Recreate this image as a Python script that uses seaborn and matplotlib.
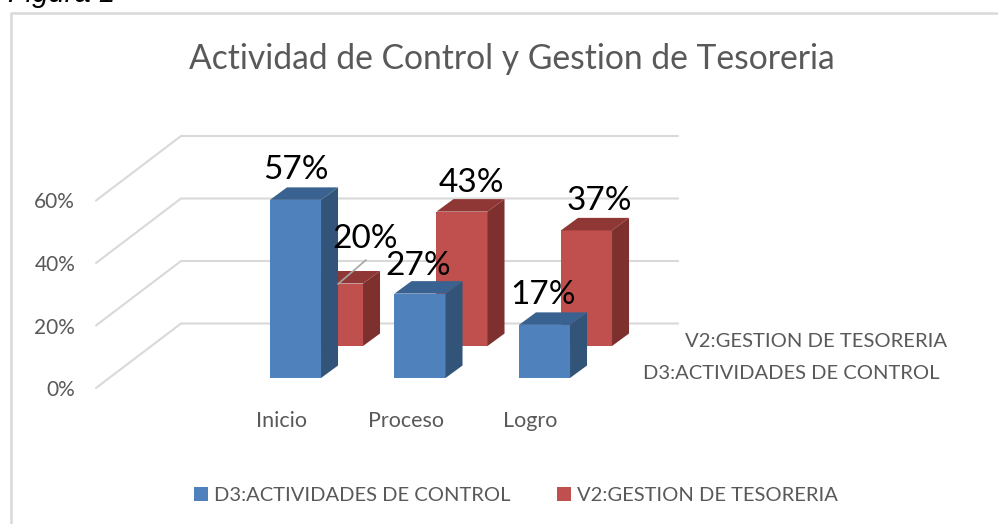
import matplotlib
matplotlib.use("Agg")
import matplotlib.pyplot as plt
from matplotlib.lines import Line2D
from matplotlib.patches import Polygon
from matplotlib.transforms import ScaledTranslation
import seaborn as sns

categories = ["Inicio", "Proceso", "Logro"]
control = [57, 27, 17]
tesoreria = [20, 43, 37]
y_ticks = [0, 20, 40, 60]
title = "Actividad de Control y Gestion de Tesoreria"
control_name = "D3:ACTIVIDADES DE CONTROL"
tesoreria_name = "V2:GESTION DE TESORERIA"

W, H = 998, 524
PX_PER_PCT = 3.125
GRAY = "#595959"
GRID = "#d9d9d9"

sns.set_theme(style="white")
plt.rcParams["font.family"] = ["Lato", "DejaVu Sans"]

fig = plt.figure(figsize=(W / 100, H / 100), dpi=100)


def px_axes(left, right, base, top):
    # axes placed with pixel coords measured from the top left corner
    ax = fig.add_axes([left / W, 1 - base / H, (right - left) / W, (base - top) / H])
    ax.patch.set_alpha(0)
    sns.despine(ax=ax, left=True, bottom=True, right=True, top=True)
    return ax


def bars_3d(ax, values, front, side, top_col, dx=17, dy=12.5):
    sns.barplot(x=categories, y=values, ax=ax, color=front, saturation=1, width=0.41,
                linewidth=0, edgecolor="none")
    ax.set_xlim(-0.5, 2.5)
    ax.set_ylim(0, 60)
    ax.set_ylabel("")
    ax.set_yticks([])
    ux = dx / (ax.get_position().width * W / 3)
    uy = dy / PX_PER_PCT
    for p in list(ax.patches):
        x0, w, h = p.get_x(), p.get_width(), p.get_height()
        x1 = x0 + w
        ax.add_patch(Polygon([(x1, 0), (x1 + ux, uy), (x1 + ux, h + uy), (x1, h)],
                             color=side, lw=0, clip_on=False))
        ax.add_patch(Polygon([(x0, h), (x0 + ux, h + uy), (x1 + ux, h + uy), (x1, h)],
                             color=top_col, lw=0, clip_on=False))


# walls and grid
ax_wall = px_axes(96, 678, 388, 200.5)
ax_wall.set_xlim(96, 678)
ax_wall.set_ylim(0, 60)
depth_y = 64.5 / PX_PER_PCT
for t in y_ticks:
    ax_wall.plot([96, 181, 678], [t, t + depth_y, t + depth_y], color=GRID, lw=1.5,
                 clip_on=False, solid_joinstyle="miter")
ax_wall.set_xticks([])
ax_wall.set_yticks(y_ticks, [f"{t}%" for t in y_ticks])
ax_wall.tick_params(axis="y", length=0, pad=15, labelsize=15, labelcolor=GRAY)

# back row, then front row
ax_red = px_axes(275.25, 648.75, 346, 158.5)
bars_3d(ax_red, tesoreria, "#c0504d", "#7d302e", "#8e3735")
ax_red.set_xticks([])

ax_blue = px_axes(233.25, 606.75, 378, 190.5)
bars_3d(ax_blue, control, "#4f81bd", "#335479", "#3a6291")
ax_blue.tick_params(axis="x", length=0, pad=23.5, labelsize=15.5, labelcolor=GRAY)
shift = ScaledTranslation(-14.5 / 100, 0, fig.dpi_scale_trans)
for lab in ax_blue.get_xticklabels():
    lab.set_transform(lab.get_transform() + shift)

# value labels sit above everything, some were dragged off their bar
red_off = [(28, 45), (9, 29), (13, 29)]
blue_off = [(0, 30), (-2, 28), (-1, 30)]
for i, v in enumerate(tesoreria):
    ax_blue.annotate(f"{v}%", xy=(i, v), xycoords=ax_red.transData,
                     xytext=(red_off[i][0] * 0.72, red_off[i][1] * 0.72),
                     textcoords="offset points", ha="center", va="center",
                     fontsize=24, color="black", annotation_clip=False, zorder=10)
for i, v in enumerate(control):
    ax_blue.annotate(f"{v}%", xy=(i, v), xycoords=ax_blue.transData,
                     xytext=(blue_off[i][0] * 0.72, blue_off[i][1] * 0.72),
                     textcoords="offset points", ha="center", va="center",
                     fontsize=24, color="black", annotation_clip=False, zorder=10)

# leader line of the moved 20% label
fig.add_artist(Line2D([338 / W, 366 / W], [1 - 284 / H, 1 - 260 / H], color="#a6a6a6", lw=1.2))

# names on the depth axis
fig.text(685 / W, 1 - 341.5 / H, tesoreria_name, fontsize=14.6, color=GRAY, va="center")
fig.text(643 / W, 1 - 373.5 / H, control_name, fontsize=14.5, color=GRAY, va="center")

ax_blue.legend(handles=[ax_blue.containers[0], ax_red.containers[0]],
               labels=[control_name, tesoreria_name], ncol=2, frameon=False,
               loc="center", bbox_to_anchor=(516 / W, 1 - 495.5 / H),
               bbox_transform=fig.transFigure, fontsize=14.5, labelcolor=GRAY,
               handlelength=0.7, handleheight=0.7, handletextpad=0.3, columnspacing=2.3)

fig.text(512 / W, 1 - 59 / H, title, fontsize=24.2, color=GRAY, ha="center", va="center")

# chart frame and the cut off caption of the page
fig.add_artist(Line2D([11 / W, 11 / W, 1], [0, 1 - 13.3 / H, 1 - 13.3 / H], color=GRID, lw=1.8))
fig.text(8 / W, 1 - 2 / H, "Figura 1", fontsize=21, style="italic", color="black",
         family="Liberation Sans", va="baseline")

plt.savefig("out.png", dpi=100)
